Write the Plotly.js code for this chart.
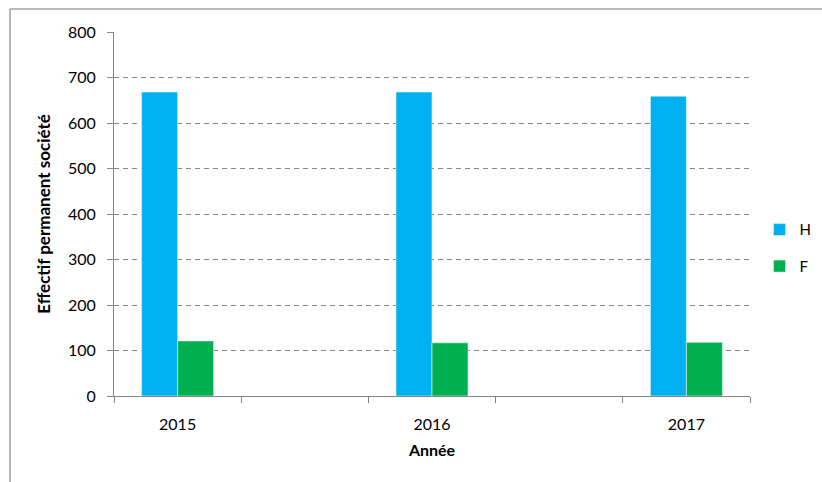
<!DOCTYPE html>
<html>
<head>
<meta charset="utf-8">
<script src="https://cdn.plot.ly/plotly-3.0.1.min.js"></script>
<style>html,body{margin:0;padding:0;background:#fff;}#chart{width:822px;height:482px;}</style>
</head>
<body>
<div id="chart"></div>
<script>
var categories = ["2015", " ", "2016", "  ", "2017"];
var valuesH = [668, null, 668, null, 659];
var valuesF = [121, null, 117, null, 118];
var seriesNames = ["H", "F"];
var colors = ["#00B0F0", "#00B050"];

var font = "Lato, 'Open Sans', 'Liberation Sans', sans-serif";

var traces = [
  {type: "bar", name: seriesNames[0], x: categories, y: valuesH, legendgroup: "a",
   marker: {color: colors[0], line: {color: "#e6f7fd", width: 0.6}}, hoverinfo: "y"},
  {type: "bar", name: seriesNames[1], x: categories, y: valuesF, legendgroup: "b",
   marker: {color: colors[1], line: {color: "#e6f6ec", width: 0.6}}, hoverinfo: "y"}
];

var layout = {
  width: 822, height: 482,
  margin: {l: 114, r: 72, t: 32, b: 86, autoexpand: false},
  paper_bgcolor: "#fff", plot_bgcolor: "#fff",
  font: {family: font, size: 16, color: "#000"},
  barmode: "group", bargap: 0.434, bargroupgap: 0,
  showlegend: true,
  legend: {x: 1.015, y: 0.407, xanchor: "left", yanchor: "middle", traceorder: "grouped",
           tracegroupgap: 14, font: {family: font, size: 15}, itemwidth: 30},
  xaxis: {
    type: "category", tickson: "boundaries", ticks: "outside", ticklen: 6, tickcolor: "#868686",
    showline: true, linecolor: "#868686", linewidth: 1, showgrid: false,
    tickfont: {family: font, size: 16}, ticklabelstandoff: 14,
    title: {text: "Année", font: {family: font, size: 16, weight: "bold"}, standoff: 12}
  },
  yaxis: {
    range: [0, 800], dtick: 100, ticks: "outside", ticklen: 6, tickcolor: "#868686",
    showline: true, linecolor: "#868686", linewidth: 1,
    showgrid: true, gridcolor: "#868686", griddash: "5px,4px", gridwidth: 1, zeroline: false,
    tickfont: {family: font, size: 16}, ticklabelstandoff: 8,
    title: {text: "Effectif permanent société", font: {family: font, size: 17, weight: "bold"}, standoff: 13}
  },
  shapes: [
    {type: "line", xref: "paper", yref: "paper", x0: -0.1635, x1: 1.2, y0: 1.0632, y1: 1.0632,
     line: {color: "#a0a0a0", width: 1.5}},
    {type: "line", xref: "paper", yref: "paper", x0: -0.1635, x1: -0.1635, y0: 1.0632, y1: -0.3,
     line: {color: "#a0a0a0", width: 1.5}}
  ]
};

Plotly.newPlot("chart", traces, layout, {displayModeBar: false, staticPlot: true});
</script>
</body>
</html>
